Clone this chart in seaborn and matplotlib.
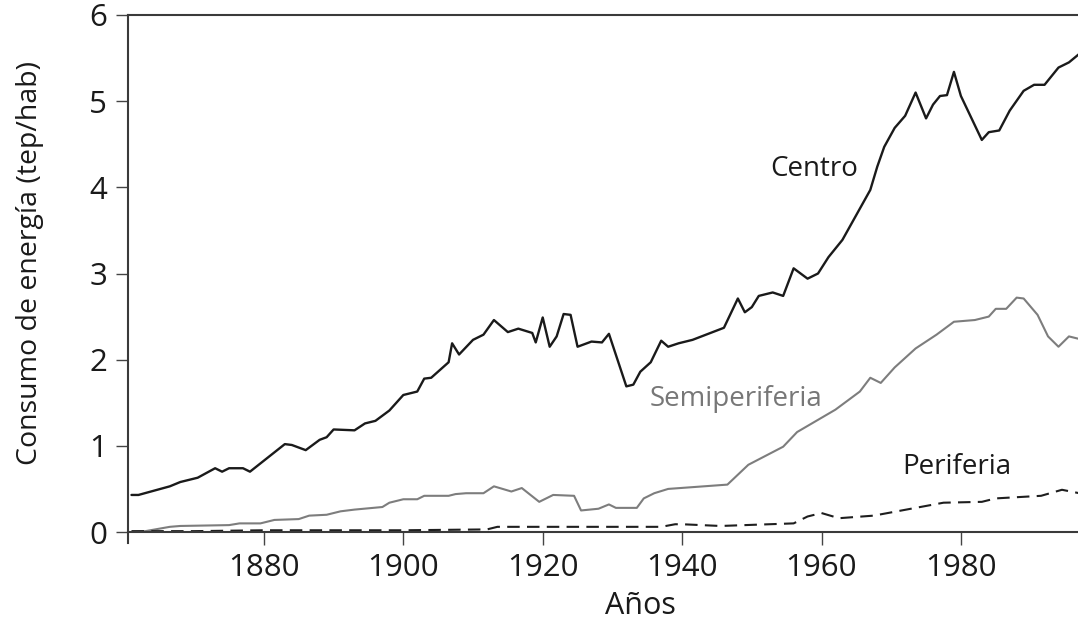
import matplotlib
matplotlib.use('Agg')
import matplotlib.pyplot as plt
import seaborn as sns
import pandas as pd

# Centro (tep/hab)
centro_years = [1861, 1862, 1866.5, 1868, 1870.5, 1873, 1874, 1875, 1877, 1878,
                1880.5, 1883, 1884, 1886, 1888, 1889, 1890, 1893, 1894.5, 1896,
                1898, 1900, 1902, 1903, 1904, 1906.5, 1907, 1908, 1910, 1911.5,
                1913, 1915, 1916.5, 1918.5, 1919, 1920, 1921, 1922, 1923, 1924,
                1925, 1927, 1928.5, 1929.5, 1932, 1933, 1934, 1935.5, 1937, 1938,
                1939.5, 1941.5, 1946, 1948, 1949, 1950, 1951, 1953, 1954.5, 1956,
                1958, 1959.5, 1961, 1963, 1965, 1967, 1968, 1969, 1970.5, 1972,
                1973.5, 1975, 1976, 1977, 1978, 1979, 1980, 1983, 1984, 1985.5,
                1987, 1989, 1990.5, 1992, 1994, 1995.5, 1997]
centro_vals = [0.43, 0.43, 0.53, 0.58, 0.63, 0.74, 0.70, 0.74, 0.74, 0.70,
               0.86, 1.02, 1.01, 0.95, 1.07, 1.10, 1.19, 1.18, 1.26, 1.29,
               1.41, 1.59, 1.63, 1.78, 1.79, 1.97, 2.19, 2.06, 2.23, 2.29,
               2.46, 2.32, 2.36, 2.31, 2.20, 2.49, 2.15, 2.27, 2.53, 2.52,
               2.15, 2.21, 2.20, 2.30, 1.69, 1.71, 1.86, 1.97, 2.22, 2.15,
               2.19, 2.23, 2.37, 2.71, 2.55, 2.61, 2.74, 2.78, 2.74, 3.06,
               2.94, 3.00, 3.19, 3.39, 3.68, 3.97, 4.24, 4.47, 4.69, 4.83,
               5.10, 4.80, 4.96, 5.06, 5.07, 5.34, 5.06, 4.55, 4.64, 4.66,
               4.89, 5.12, 5.19, 5.19, 5.39, 5.45, 5.55]

# Semiperiferia
semi_years = [1861, 1863, 1866.5, 1868, 1875, 1876.5, 1879.5, 1881.5, 1885, 1886.5,
              1889, 1891, 1893, 1897, 1898, 1900, 1902, 1903, 1906.5, 1907.5,
              1909, 1911.5, 1913, 1915.5, 1917, 1919.5, 1921.5, 1924.5, 1925.5, 1928,
              1929.5, 1930.5, 1933.5, 1934.5, 1936, 1938, 1946.5, 1949.5, 1954.5, 1956.5,
              1962, 1965.5, 1967, 1968.5, 1970.5, 1973.5, 1976.5, 1979, 1982, 1984,
              1985, 1986.5, 1988, 1989, 1991, 1992.5, 1994, 1995.5, 1997]
semi_vals = [0.00, 0.01, 0.06, 0.07, 0.08, 0.10, 0.10, 0.14, 0.15, 0.19,
             0.20, 0.24, 0.26, 0.29, 0.34, 0.38, 0.38, 0.42, 0.42, 0.44,
             0.45, 0.45, 0.53, 0.47, 0.51, 0.35, 0.43, 0.42, 0.25, 0.27,
             0.32, 0.28, 0.28, 0.39, 0.45, 0.50, 0.55, 0.78, 0.99, 1.16,
             1.42, 1.63, 1.79, 1.73, 1.91, 2.13, 2.29, 2.44, 2.46, 2.50,
             2.59, 2.59, 2.72, 2.71, 2.52, 2.27, 2.15, 2.27, 2.24]

# Periferia
peri_years = [1861, 1870, 1880, 1900, 1912, 1913.5, 1926, 1937, 1939, 1940,
              1945.5, 1956, 1958, 1960, 1962.5, 1967.5, 1969.5, 1973.5, 1977.5, 1983,
              1985, 1991.5, 1994.5, 1997]
peri_vals = [0.01, 0.01, 0.02, 0.02, 0.03, 0.06, 0.06, 0.06, 0.09, 0.09,
             0.07, 0.10, 0.18, 0.22, 0.16, 0.19, 0.22, 0.28, 0.34, 0.35,
             0.39, 0.42, 0.49, 0.45]

x_ticks = [1880, 1900, 1920, 1940, 1960, 1980]
y_ticks = [0, 1, 2, 3, 4, 5, 6]


def main():
    sns.set_style('ticks')
    plt.rcParams['font.family'] = ['Open Sans', 'DejaVu Sans']

    fig = plt.figure(figsize=(10.78, 6.24), dpi=100)
    ax = fig.add_axes([128 / 1078, 92 / 624, 950 / 1078, 517 / 624])

    centro_df = pd.DataFrame({'Año': centro_years, 'Valor': centro_vals})
    semi_df = pd.DataFrame({'Año': semi_years, 'Valor': semi_vals})
    peri_df = pd.DataFrame({'Año': peri_years, 'Valor': peri_vals})

    sns.lineplot(data=semi_df, x='Año', y='Valor', ax=ax, color='#7d7d7d', lw=1.5)
    sns.lineplot(data=peri_df, x='Año', y='Valor', ax=ax, color='#1e1e1e', lw=1.5,
                 dashes=False, linestyle=(0, (6, 3.5)))
    sns.lineplot(data=centro_df, x='Año', y='Valor', ax=ax, color='#1a1a1a', lw=1.7)

    ax.set_xlim(1860.5, 1996.8)
    ax.set_ylim(0, 6)
    ax.set_xticks(x_ticks)
    ax.set_yticks(y_ticks)
    ax.tick_params(axis='both', labelsize=22.5, length=9, width=1.0, color='#444444',
                   labelcolor='#1a1a1a', pad=6, direction='out')

    for side in ['left', 'top', 'bottom']:
        ax.spines[side].set_color('#3a3a3a')
        ax.spines[side].set_linewidth(1.5)
    ax.spines['right'].set_visible(False)
    ax.spines['left'].set_bounds(-0.13, 6)

    ax.set_xlabel('Años', fontsize=22, color='#1a1a1a')
    ax.set_ylabel('Consumo de energía (tep/hab)', fontsize=20.5, color='#1a1a1a')
    ax.xaxis.set_label_coords(0.539, -0.115)
    ax.yaxis.set_label_coords(-0.088, 0.52)

    ax.text(1958.9, 4.21, 'Centro', fontsize=20, color='#1a1a1a', ha='center', va='center')
    ax.text(1947.7, 1.54, 'Semiperiferia', fontsize=20, color='#777777', ha='center', va='center')
    ax.text(1979.4, 0.75, 'Periferia', fontsize=20, color='#1a1a1a', ha='center', va='center')

    plt.savefig('out.png', dpi=100)
    plt.close()


if __name__ == '__main__':
    main()
